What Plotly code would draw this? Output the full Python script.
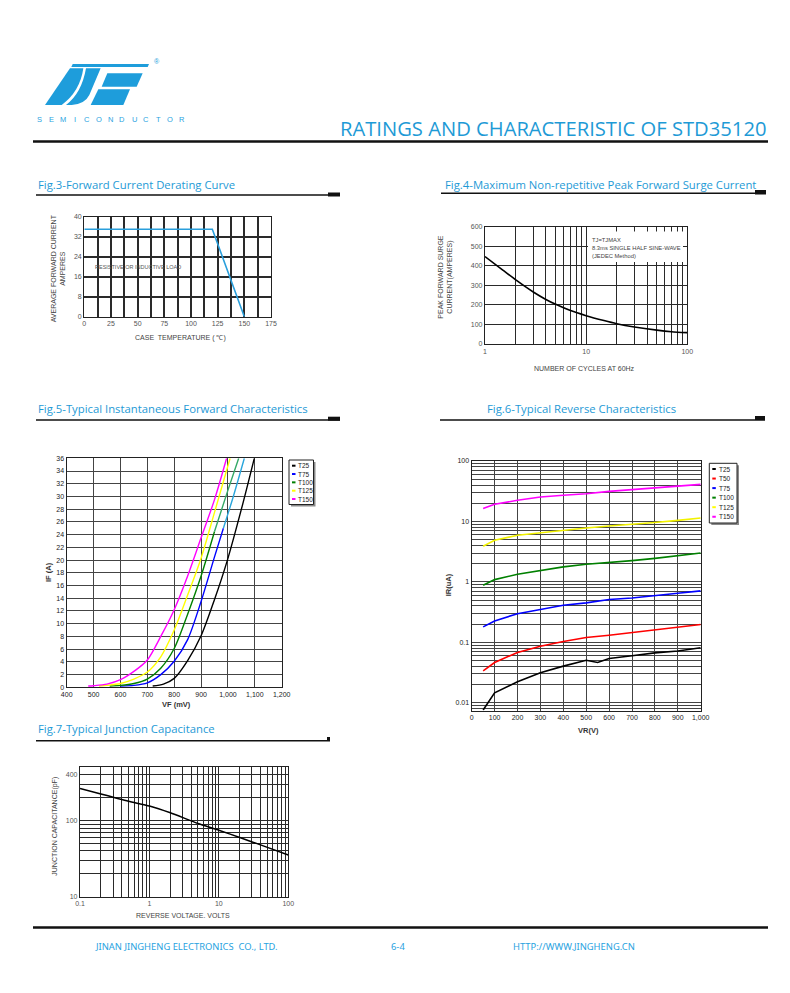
import plotly.graph_objects as go

# page is photographed at 790x993; the browser body adds an 8px margin
PAGE_W, PAGE_H = 790, 993
OFF = 8
W, H = PAGE_W - 2 * OFF, PAGE_H - 2 * OFF

# ---------------- data ----------------
# Fig.3 forward current derating
fig3_case_temp = [0, 120, 150]
fig3_avg_current = [35, 35, 0]
fig3_x_grid = [0, 12.5, 25, 37.5, 50, 62.5, 75, 87.5, 100, 112.5, 125, 137.5, 150, 162.5, 175]
fig3_x_labels = ["0", "", "25", "", "50", "", "75", "", "100", "", "125", "", "150", "", "175"]
fig3_y_ticks = [0, 8, 16, 24, 32, 40]

# Fig.4 peak forward surge current
fig4_cycles = [1, 1.5, 2, 3, 4, 5, 7, 10, 15, 20, 30, 50, 70, 100]
fig4_surge = [447, 378, 329, 266, 228, 203, 171, 145, 120, 104, 87, 71, 63, 58]
fig4_x_grid = [1, 2, 3, 4, 5, 6, 7, 8, 9, 10, 20, 30, 40, 50, 60, 70, 80, 90, 100]
fig4_x_labels = ["1", "", "", "", "", "", "", "", "", "10", "", "", "", "", "", "", "", "", "100"]
fig4_y_ticks = [0, 100, 200, 300, 400, 500, 600]

# Fig.5 forward characteristics (VF in mV, IF in A)
fig5_names = ["T25", "T75", "T100", "T125", "T150"]
fig5_colors = ["#000000", "#0000ff", "#008000", "#ffff00", "#ff00ff"]
fig5_t25_vf = [720, 760, 800, 850, 900, 950, 998, 1050, 1098]
fig5_t25_if = [0.2, 0.5, 1.4, 4.2, 8.1, 13.8, 20, 28, 36]
fig5_t75_vf = [600, 650, 700, 750, 800, 850, 900, 950, 983]
fig5_t75_if = [0.2, 0.3, 0.7, 2.0, 4.1, 7.5, 13.5, 20.5, 25]
fig5_t75_top_vf = [983, 1020, 1061]
fig5_t75_top_if = [25, 30, 36]
fig5_t100_vf = [560, 600, 650, 700, 750, 800, 850, 900, 950]
fig5_t100_if = [0.2, 0.3, 0.6, 1.3, 3.0, 6.1, 11.5, 17.5, 24.5]
fig5_t100_top_vf = [950, 1000, 1040]
fig5_t100_top_if = [24.5, 31, 36]
fig5_t125_vf = [520, 550, 600, 650, 700, 750, 800, 850, 900, 950, 1008]
fig5_t125_if = [0.2, 0.3, 0.6, 1.3, 2.4, 4.8, 9.0, 14.5, 20.3, 27.5, 36]
fig5_t150_vf = [480, 500, 550, 600, 650, 700, 750, 800, 850, 900, 950, 995]
fig5_t150_if = [0.2, 0.25, 0.5, 1.2, 2.5, 4.3, 8.0, 12.2, 17.5, 23.5, 29.5, 36]
fig5_x_ticks = [400, 500, 600, 700, 800, 900, 1000, 1100, 1200]
fig5_x_labels = ["400", "500", "600", "700", "800", "900", "1,000", "1,100", "1,200"]
fig5_y_ticks = list(range(0, 37, 2))

# Fig.6 reverse characteristics (VR in V, IR in uA)
fig6_names = ["T25", "T50", "T75", "T100", "T125", "T150"]
fig6_colors = ["#000000", "#ff0000", "#0000ff", "#008000", "#ffff00", "#ff00ff"]
fig6_vr = [50, 100, 200, 300, 400, 500, 600, 700, 800, 900, 1000]
fig6_t25_vr = [50, 100, 200, 300, 400, 500, 550, 600, 700, 800, 900, 1000]
fig6_t25_ir = [0.0076, 0.0146, 0.0222, 0.0313, 0.0404, 0.0505, 0.0464, 0.054, 0.060, 0.067, 0.072, 0.0816]
fig6_t50_ir = [0.0338, 0.0464, 0.068, 0.086, 0.103, 0.12, 0.131, 0.145, 0.165, 0.18, 0.197]
fig6_t75_ir = [0.180, 0.226, 0.298, 0.354, 0.41, 0.45, 0.51, 0.54, 0.60, 0.65, 0.71]
fig6_t100_ir = [0.88, 1.09, 1.34, 1.56, 1.77, 1.96, 2.09, 2.25, 2.45, 2.7, 3.01]
fig6_t125_ir = [3.88, 4.88, 5.9, 6.5, 7.1, 7.8, 8.4, 8.9, 9.6, 10.4, 11.4]
fig6_t150_ir = [16.3, 19.2, 22.4, 25.4, 27.2, 28.8, 31.4, 33.5, 36.3, 38.5, 41.1]
fig6_x_ticks = [0, 100, 200, 300, 400, 500, 600, 700, 800, 900, 1000]
fig6_x_labels = ["0", "100", "200", "300", "400", "500", "600", "700", "800", "900", "1,000"]
fig6_y_grid = [0.008, 0.009] + [m * 10 ** e for e in (-2, -1, 0, 1) for m in range(1, 10)] + [100]
fig6_y_labeled = {0.01: "0.01", 0.1: "0.1", 1: "1", 10: "10", 100: "100"}

# Fig.7 junction capacitance
fig7_vr = [0.1, 0.2, 0.5, 1, 2, 5, 10, 20, 50, 100]
fig7_cap = [266, 224, 180, 156, 127, 92, 75, 60, 44.6, 35.3]
fig7_x_grid = [m * 10 ** e for e in (-1, 0, 1) for m in range(1, 10)] + [100]
fig7_x_labeled = {0.1: "0.1", 1: "1", 10: "10", 100: "100"}
fig7_y_grid = [10, 20, 30, 40, 50, 60, 70, 80, 90, 100, 200, 300, 400]
fig7_y_labeled = {10: "10", 100: "100", 400: "400"}


def lbl(vals, labeled):
    out = []
    for v in vals:
        s = ""
        for k, t in labeled.items():
            if abs(v - k) < 1e-9 * max(1, k):
                s = t
        out.append(s)
    return out


# ---------------- helpers (page pixel -> paper fraction) ----------------
def X(p):
    return (p - OFF) / W


def Y(p):
    return 1 - (p - OFF) / H


def dx(l, r):
    return [X(l), X(r)]


def dy(t, b):
    return [Y(b), Y(t)]


BLUE_T = "#1e9ad6"
SANS = "Liberation Sans, Arial, sans-serif"
TITLE_F = "Open Sans, Noto Sans, sans-serif"

shapes = []
annotations = []


def hline(x0, x1, y, w, color="#111111"):
    shapes.append(dict(type="line", xref="paper", yref="paper", x0=X(x0), x1=X(x1),
                       y0=Y(y), y1=Y(y), line=dict(color=color, width=w)))


def rect(x0, y0, x1, y1, fill, lc=None, lw=0, layer="above"):
    shapes.append(dict(type="rect", xref="paper", yref="paper", x0=X(x0), x1=X(x1),
                       y0=Y(y1), y1=Y(y0), fillcolor=fill, layer=layer,
                       line=dict(color=lc if lc else fill, width=lw)))


def text(x, y, s, size, color, anchor="left", family=SANS, angle=0):
    annotations.append(dict(xref="paper", yref="paper", x=X(x), y=Y(y), text=s, showarrow=False,
                            xanchor=anchor, yanchor="middle", textangle=angle,
                            font=dict(size=size, color=color, family=family)))


def zp(zx, zy):
    return X(30 + zx / 3), Y(50 + zy / 3)


def path(cmds):
    out = []
    for c in cmds:
        op, nums = c[0], c[1:]
        pts = []
        for i in range(0, len(nums), 2):
            a, b = zp(nums[i], nums[i + 1])
            pts.append(f"{a:.5f},{b:.5f}")
        out.append(op + " " + " ".join(pts))
    return " ".join(out)


fig = go.Figure()

# ---------------- traces ----------------
fig.add_trace(go.Scatter(x=fig3_case_temp, y=fig3_avg_current, mode="lines",
                         line=dict(color="#2a9fdc", width=1.6), xaxis="x", yaxis="y", showlegend=False))
fig.add_trace(go.Scatter(x=fig4_cycles, y=fig4_surge, mode="lines",
                         line=dict(color="#000000", width=1.6, shape="spline", smoothing=0.6),
                         xaxis="x2", yaxis="y2", showlegend=False))

fig5_series = [
    (fig5_t25_vf, fig5_t25_if, fig5_colors[0]),
    (fig5_t75_vf, fig5_t75_if, fig5_colors[1]),
    (fig5_t75_top_vf, fig5_t75_top_if, "#2aa6dc"),
    (fig5_t100_vf, fig5_t100_if, fig5_colors[2]),
    (fig5_t100_top_vf, fig5_t100_top_if, "#33a866"),
    (fig5_t125_vf, fig5_t125_if, fig5_colors[3]),
    (fig5_t150_vf, fig5_t150_if, fig5_colors[4]),
]
for xs, ys, c in fig5_series:
    fig.add_trace(go.Scatter(x=xs, y=ys, mode="lines",
                             line=dict(color=c, width=1.4, shape="spline", smoothing=0.8),
                             xaxis="x3", yaxis="y3", showlegend=False))

fig6_series = [
    (fig6_t25_vr, fig6_t25_ir, fig6_colors[0]),
    (fig6_vr, fig6_t50_ir, fig6_colors[1]),
    (fig6_vr, fig6_t75_ir, fig6_colors[2]),
    (fig6_vr, fig6_t100_ir, fig6_colors[3]),
    (fig6_vr, fig6_t125_ir, "#f2f200"),
    (fig6_vr, fig6_t150_ir, fig6_colors[5]),
]
for xs, ys, c in fig6_series:
    fig.add_trace(go.Scatter(x=xs, y=ys, mode="lines", line=dict(color=c, width=1.6),
                             xaxis="x4", yaxis="y4", showlegend=False))

fig.add_trace(go.Scatter(x=fig7_vr, y=fig7_cap, mode="lines",
                         line=dict(color="#000000", width=1.5, shape="spline", smoothing=0.6),
                         xaxis="x5", yaxis="y5", showlegend=False))

# ---------------- axes ----------------
gray_tick = dict(size=7, color="#555555", family=SANS)
dark_tick = dict(size=7, color="#222222", family=SANS)


def ax(domain, anchor, grid, gw, tickfont, **kw):
    d = dict(domain=domain, anchor=anchor, showline=True, mirror=True, linecolor="#222222",
             linewidth=1.3, zeroline=False, ticks="", showgrid=True, gridcolor=grid,
             gridwidth=gw, tickfont=tickfont, fixedrange=True, automargin=False)
    d.update(kw)
    return d


layout_axes = dict(
    xaxis=ax(dx(84.3, 271), "y", "#2a2a2a", 1.5, gray_tick, range=[0, 175],
             tickvals=fig3_x_grid, ticktext=fig3_x_labels),
    yaxis=ax(dy(216.7, 316.7), "x", "#2a2a2a", 1.5, gray_tick, range=[0, 40],
             tickvals=fig3_y_ticks),
    xaxis2=ax(dx(485, 687.3), "y2", "#2a2a2a", 1.3, gray_tick, type="log", range=[0, 2],
              tickvals=fig4_x_grid, ticktext=fig4_x_labels),
    yaxis2=ax(dy(226.7, 344), "x2", "#2a2a2a", 1.3, gray_tick, range=[0, 600],
              tickvals=fig4_y_ticks),
    xaxis3=ax(dx(66.7, 281.7), "y3", "#444444", 1.2, dark_tick, range=[400, 1200],
              tickvals=fig5_x_ticks, ticktext=fig5_x_labels),
    yaxis3=ax(dy(458.3, 687.3), "x3", "#444444", 1.2, dark_tick, range=[0, 36],
              tickvals=fig5_y_ticks),
    xaxis4=ax(dx(471.7, 700.7), "y4", "#444444", 1.2, dark_tick, range=[0, 1000],
              tickvals=fig6_x_ticks, ticktext=fig6_x_labels),
    yaxis4=ax(dy(461, 710.7), "x4", "#444444", 1.1, dark_tick, type="log", range=[-2.131, 2],
              tickvals=fig6_y_grid, ticktext=lbl(fig6_y_grid, fig6_y_labeled)),
    xaxis5=ax(dx(80, 288.3), "y5", "#2a2a2a", 1.1, gray_tick, type="log", range=[-1, 2],
              tickvals=fig7_x_grid, ticktext=lbl(fig7_x_grid, fig7_x_labeled)),
    yaxis5=ax(dy(766.7, 896.7), "x5", "#2a2a2a", 1.1, gray_tick, type="log", range=[1, 2.71],
              tickvals=fig7_y_grid, ticktext=lbl(fig7_y_grid, fig7_y_labeled)),
)

# ---------------- page decoration ----------------
# logo
LOGO = "#1e9ddb"
logo_parts = [
    [("M", 128, 42), ("L", 357, 42), ("L", 353, 51), ("L", 124, 51), ("Z",)],
    [("M", 120, 55), ("L", 160, 55), ("Q", 150, 125, 95, 165), ("L", 45, 165), ("Z",)],
    [("M", 168, 55), ("L", 212, 55), ("L", 178, 135), ("Q", 165, 162, 125, 165), ("L", 108, 165),
     ("Q", 155, 130, 168, 55), ("Z",)],
    [("M", 232, 70), ("L", 338, 70), ("L", 320, 110), ("L", 215, 110), ("Z",)],
    [("M", 205, 118), ("L", 300, 118), ("L", 280, 165), ("L", 182, 165), ("Z",)],
]
for p in logo_parts:
    shapes.append(dict(type="path", xref="paper", yref="paper", path=path(p),
                       fillcolor=LOGO, line=dict(width=0), layer="above"))
text(157.3, 61.7, "®", 7, LOGO, anchor="center")
for i, ch in enumerate("SEMICONDUCTOR"):
    text(39.3 + i * 11.87, 120, ch, 7.5, "#2aa3df", anchor="center")

text(768, 128, "RATINGS AND CHARACTERISTIC OF STD35120", 20.2, BLUE_T, anchor="right", family=TITLE_F)
hline(33, 768, 141.5, 2.5)
hline(33, 768, 927.5, 2.5)

# section titles and rules
TS = 11.3
text(36, 185, "Fig.3-Forward Current Derating Curve", TS, BLUE_T, family=TITLE_F)
hline(36, 340, 195, 1.4)
rect(328, 192.5, 340, 196.5, "#111111")
text(442.5, 185, "Fig.4-Maximum Non-repetitive Peak Forward Surge Current", TS, BLUE_T, family=TITLE_F)
hline(441, 766, 193.3, 1.4)
rect(755, 190, 766, 194.5, "#111111")
text(36, 408.3, "Fig.5-Typical Instantaneous Forward Characteristics", TS, BLUE_T, family=TITLE_F)
hline(36, 340, 420, 1.4)
rect(328, 416.7, 340, 420.7, "#111111")
text(485, 408.3, "Fig.6-Typical Reverse Characteristics", TS, BLUE_T, family=TITLE_F)
hline(440, 765, 420, 1.4)
rect(755, 416, 765, 420, "#111111")
text(36, 728.3, "Fig.7-Typical Junction Capacitance", TS, BLUE_T, family=TITLE_F)
hline(36, 330, 740.7, 1.4)
rect(327, 737, 330, 741, "#111111")

# axis titles
AX_C = "#444444"
text(180, 338.3, "CASE  TEMPERATURE ( ℃)", 7, AX_C, anchor="center")
text(58.3, 268, "AVERAGE FORWARD CURRENT<br>AMPERES", 7, AX_C, anchor="center", angle=-90)
text(93.3, 267.3, "RESISTIVE OR INDUCTIVE LOAD", 5.5, "#555555")

text(584, 368.7, "NUMBER OF CYCLES AT 60Hz", 7, AX_C, anchor="center")
text(446, 276.7, "PEAK FORWARD SURGE<br>CURRENT(AMPERES)", 7, AX_C, anchor="center", angle=-90)
rect(588, 231.5, 683, 262, "#ffffff")
text(590, 240, "TJ=TJMAX", 5.8, "#444444")
text(590, 247.8, "8.3ms SINGLE HALF SINE-WAVE", 5.8, "#444444")
text(590, 255.6, "(JEDEC Method)", 5.8, "#444444")

text(176.7, 704.3, "<b>VF (mV)</b>", 7.5, "#333333", anchor="center")
text(48.3, 571.7, "<b>IF (A)</b>", 7.5, "#333333", anchor="center", angle=-90)
text(588.3, 730, "<b>VR(V)</b>", 7.5, "#333333", anchor="center")
text(448.3, 585, "<b>IR(uA)</b>", 7.5, "#333333", anchor="center", angle=-90)

text(183.3, 915.7, "REVERSE VOLTAGE. VOLTS", 7, AX_C, anchor="center")
text(55, 826.7, "JUNCTION CAPACITANCE(pF)", 7, AX_C, anchor="center", angle=-90)

# manual legends
rect(291, 462, 315.5, 506.5, "#8a8a8a")
rect(289, 460, 313.5, 504.5, "#ffffff", lc="#222222", lw=1)
for i, (n, c) in enumerate(zip(fig5_names, fig5_colors)):
    yy = 465.7 + i * 8.33
    hline(292, 295.5, yy, 2, c)
    text(296, yy, n, 6.5, "#222222")

rect(711.3, 465.3, 739, 525, "#8a8a8a")
rect(709.3, 463.3, 737, 523, "#ffffff", lc="#222222", lw=1)
for i, (n, c) in enumerate(zip(fig6_names, fig6_colors)):
    yy = 469 + i * 9.55
    hline(712.3, 715.8, yy, 2, c)
    text(716.5, yy, n, 6.5, "#222222")

# footer
FOOT_C = "#29a3df"
text(93.3, 946.7, "JINAN JINGHENG ELECTRONICS  CO., LTD.", 9.4, FOOT_C, family="Noto Sans, sans-serif")
text(398, 946.7, "6-4", 9.4, FOOT_C, anchor="center", family="Noto Sans, sans-serif")
text(511, 946.7, "HTTP://WWW.JINGHENG.CN", 9.4, FOOT_C, family="Noto Sans, sans-serif")

fig.update_layout(
    template="none",
    width=W, height=H, margin=dict(l=0, r=0, t=0, b=0, pad=0, autoexpand=False),
    paper_bgcolor="#ffffff", plot_bgcolor="#ffffff", showlegend=False,
    shapes=shapes, annotations=annotations, font=dict(family=SANS),
    **layout_axes,
)

fig.write_html("out.html")
